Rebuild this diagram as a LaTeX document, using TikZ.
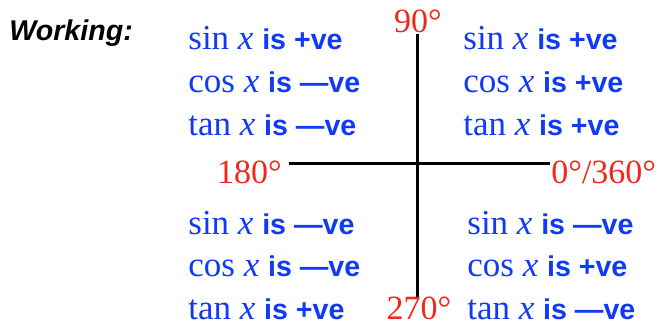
\documentclass[tikz,border=0pt]{standalone}
\usepackage{fontspec}
\setmainfont{Liberation Serif}
\setsansfont{Liberation Sans}
\usetikzlibrary{positioning}
\definecolor{qblue}{HTML}{0F3AF8}
\definecolor{angred}{HTML}{F0281A}
\newcommand{\sgnfont}{\sffamily\bfseries\fontsize{14.3}{17}\selectfont}
\newcommand{\trigline}[2]{#1 \textit{x} {\sgnfont is #2ve}}
\tikzset{
  quadtext/.style={
    text=qblue,
    anchor=base west,
    inner sep=0pt,
    font=\fontsize{17.5}{21}\selectfont
  },
  anglabel/.style={
    text=angred,
    inner sep=0pt,
    font=\fontsize{17}{20}\selectfont
  },
  axisline/.style={line width=1.5pt,draw=black}
}
\begin{document}
\begin{tikzpicture}[x=0.5pt,y=-0.5pt]
  \useasboundingbox (0,0) rectangle (659,325);

  \node[anchor=base west,inner sep=0pt,font=\sgnfont\itshape] (work) at (9,41) {Working:};

  % axes
  \coordinate (top)    at (417,34);
  \coordinate (bottom) at (417,297);
  \coordinate (left)   at (289,164);
  \coordinate (right)  at (550,164);
  \draw[axisline] (top) -- (bottom);
  \draw[axisline] (left) -- (right);

  \node[anglabel,anchor=base]      (a90)  at (418,33)  {90°};
  \node[anglabel,anchor=base east] (a180) at (282,184) {180°};
  \node[anglabel,anchor=base west] (a0)   at (551,184) {0°/360°};
  \node[anglabel,anchor=base]      (a270) at (419,320) {270°};

  % quadrants
  \foreach \fn/\sg/\yy [count=\i] in {sin/+/50,cos/—/93,tan/—/136}
    \node[quadtext] (ul\i) at (188,\yy) {\trigline{\fn}{\sg}};
  \foreach \fn/\sg/\yy [count=\i] in {sin/+/50,cos/+/93,tan/+/136}
    \node[quadtext] (ur\i) at (463,\yy) {\trigline{\fn}{\sg}};
  \foreach \fn/\sg/\yy [count=\i] in {sin/—/235,cos/—/277,tan/+/320}
    \node[quadtext] (ll\i) at (188,\yy) {\trigline{\fn}{\sg}};
  \foreach \fn/\sg/\yy [count=\i] in {sin/—/235,cos/+/277,tan/—/320}
    \node[quadtext] (lr\i) at (467,\yy) {\trigline{\fn}{\sg}};
\end{tikzpicture}
\end{document}
